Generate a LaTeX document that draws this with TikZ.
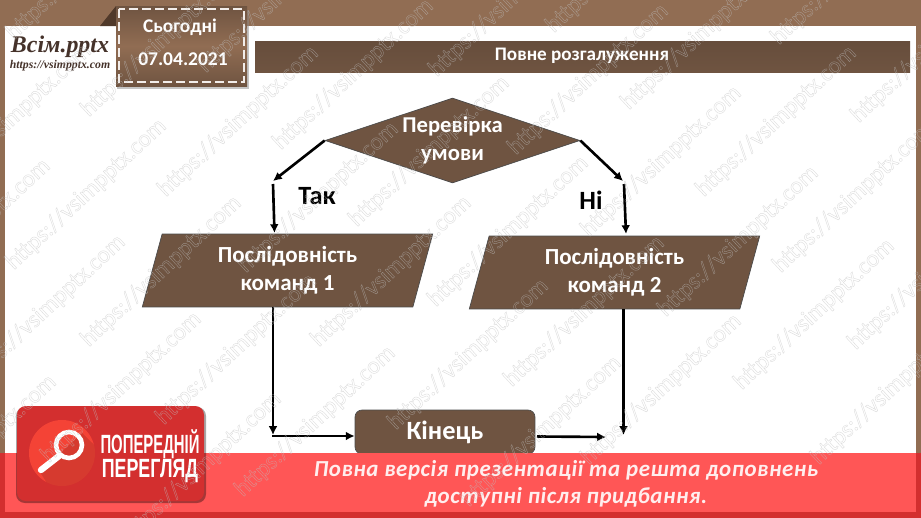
\documentclass[tikz,border=0pt]{standalone}
\usepackage{fontspec}
\setmainfont{Carlito}
\newfontfamily\logofont{Liberation Serif}
\newfontfamily\badgefont{Liberation Sans}
\usetikzlibrary{positioning, arrows.meta, shapes.geometric, shadows}

\definecolor{bandbrown}{HTML}{916D53}
\definecolor{boxbrown}{HTML}{6F5441}
\definecolor{foldbrown}{HTML}{50392A}
\definecolor{logobrown}{HTML}{45322A}
\definecolor{bandred}{HTML}{FF5656}
\definecolor{darkred}{HTML}{D32F2F}
\definecolor{lensred}{HTML}{F44336}

\newcommand{\marktext}{\special{pdf:code 1 Tr .22 w}https://vsimpptx.com\special{pdf:code 0 Tr}}

\tikzset{
  flowline/.style={line width=1.5pt, black},
  flowarrow/.style={flowline, -{Latex[length=5pt, width=5pt]}},
  flowtext/.style={text=white, font=\fontsize{13.1}{15.9}\selectfont\bfseries, align=center},
  seqbox/.style={shape=trapezium, trapezium left angle=77, trapezium right angle=103,
    trapezium stretches=true, fill=boxbrown, draw=black!70, line width=.4pt,
    minimum width=5.86cm, minimum height=1.46cm, inner sep=0pt, flowtext},
  branchlabel/.style={text=black, font=\fontsize{15}{17}\selectfont\bfseries},
  watermark/.style={anchor=west, rotate=43, text=black!25, opacity=.55,
    font=\fontsize{13.6}{15}\selectfont},
}

\begin{document}
\begin{tikzpicture}[x=.02cm, y=-.02cm]
\useasboundingbox (0,0) rectangle (921,518);
\clip (0,0) rectangle (921,518);

% page frame
\fill[bandbrown] (0,0) rectangle (921,518);
\fill[white] (5,26) rectangle (916,518);
\fill[boxbrown, top color=boxbrown!92!black, bottom color=boxbrown] (255,41) rectangle (910,72);
\node[text=white, font=\fontsize{10.9}{12}\selectfont\bfseries] (title) at (582,56) {Повне розгалуження};

% date tag
\fill[foldbrown] (100,26) -- (116,6) -- (116,26) -- cycle;
\fill[black!45, opacity=.5] (117,10) rectangle (249,89);
\fill[top color=boxbrown, bottom color=boxbrown, middle color=bandbrown] (116,6) rectangle (247,86);
\draw[white!88!bandbrown, line width=.8pt, dash pattern=on 5pt off 2.4pt] (119,9) rectangle (244,82);
\node[text=white, font=\fontsize{11}{12}\selectfont\bfseries] (today) at (180,27) {Сьогодні};
\node[text=white, font=\fontsize{11.1}{12}\selectfont\bfseries] (datestamp) at (183,59) {07.04.2021};

% logo
\node[text=logobrown, font=\logofont\fontsize{13.6}{14}\selectfont\itshape\bfseries] (logoname) at (60,47) {Всім.pptx};
\node[text=logobrown, font=\logofont\fontsize{6.7}{7}\selectfont\itshape\bfseries] (logourl) at (60,66) {https://vsimpptx.com};

% flowchart
\node[shape=diamond, shape aspect=3, fill=boxbrown, draw=black!70, line width=.4pt, minimum width=5.1cm, minimum height=1.7cm,
  inner sep=0pt, text=white, font=\fontsize{12.9}{15.9}\selectfont\bfseries, align=center] (check) at (452.5,140.5) {Перевірка\\умови};
\node[seqbox] (seqa) at (287.5,270.5) {Послідовність\\команд 1};
\node[seqbox] (seqb) at (614.5,272.5) {Послідовність\\команд 2};
\node[fill=boxbrown, draw=black!70, line width=.4pt, rounded corners=4pt, minimum width=3.6cm, minimum height=.88cm,
  text=white, font=\fontsize{15}{17}\selectfont\bfseries] (finish) at (445,432) {Кінець};

\coordinate (yeselbow) at (273,181);
\coordinate (yesdrop) at (273,184);
\coordinate (yesin) at (274.5,233);
\coordinate (noelbow) at (623,181);
\coordinate (nodrop) at (624,184);
\coordinate (noin) at (626,234);
\coordinate (seqaout) at (273,307);
\coordinate (seqaturn) at (273,435);
\coordinate (seqastart) at (272,436);
\coordinate (seqbout) at (623.5,309);
\coordinate (seqbend) at (623.5,435);
\coordinate (finishend) at (606,437);
\coordinate (finishout) at (537,436.5);

\draw[flowarrow] (check.west) -- (yeselbow);
\draw[flowarrow] (yesdrop) -- (yesin);
\draw[flowarrow] (check.east) -- (noelbow);
\draw[flowarrow] (nodrop) -- (noin);
\draw[flowarrow] (seqaout) -- (seqaturn);
\draw[flowarrow] (seqastart) -- (finish.west |- seqastart);
\draw[flowarrow] (seqbout) -- (seqbend);
\draw[flowarrow] (finishout) -- (finishend);

\node[branchlabel] (yeslabel) at (317,196) {Так};
\node[branchlabel] (nolabel) at (591,200) {Ні};

% banner
\fill[bandred] (0,453) rectangle (921,518);
\fill[darkred] (0,453) rectangle (5,518);
\fill[darkred] (916,453) rectangle (921,518);
\fill[darkred] (0,512) rectangle (921,518);
\node[text=white!90!bandred, font=\addfontfeatures{LetterSpace=2.5}\fontsize{13.05}{15.4}\selectfont\itshape\bfseries, align=center] (offer) at (566,484)
  {Повна версія презентації та решта доповнень\\доступні після придбання.};

% preview badge
\fill[black, opacity=.35, rounded corners=5pt] (16,407) rectangle (206,503);
\fill[darkred, rounded corners=5pt] (17,406) rectangle (204,501);
\fill[lensred] (62,453) circle (33);
\begin{scope}
\clip (62,453) circle (33);
\fill[black, opacity=.12] (82,433) -- (120,470) -- (70,520) -- (40,472) -- cycle;
\end{scope}
\draw[white, line width=2.6pt] (69,445) circle (13);
\draw[white, line width=3.6pt, line cap=round] (59,456) -- (41,470);
\node[text=white, font=\badgefont\fontsize{15}{13.6}\selectfont\bfseries, align=center, xscale=.565, transform shape] (preview) at (150,456)
  {ПОПЕРЕДНІЙ\\\scalebox{1.2}[1]{ПЕРЕГЛЯД}};

% site marks
\foreach \mx/\my [count=\i] in {-70/195, 5/270, 80/347, 155/425, 234/497,
  5/40, 80/117, 157/197, 237/273, 310/347, 387/430, 460/507,
  197/73, 272/150, 348/227, 427/307, 503/387, 580/465,
  353/0, 428/77, 507/155, 580/237, 657/317, 733/390, 810/465,
  545/33, 620/110, 695/197, 772/273, 847/350, 923/425,
  770/45, 850/123, -111/310, -36/386, 40/463, 120/543, -105/526}
  \node[watermark] (mark\i) at (\mx,\my) {\marktext};
\end{tikzpicture}
\end{document}
